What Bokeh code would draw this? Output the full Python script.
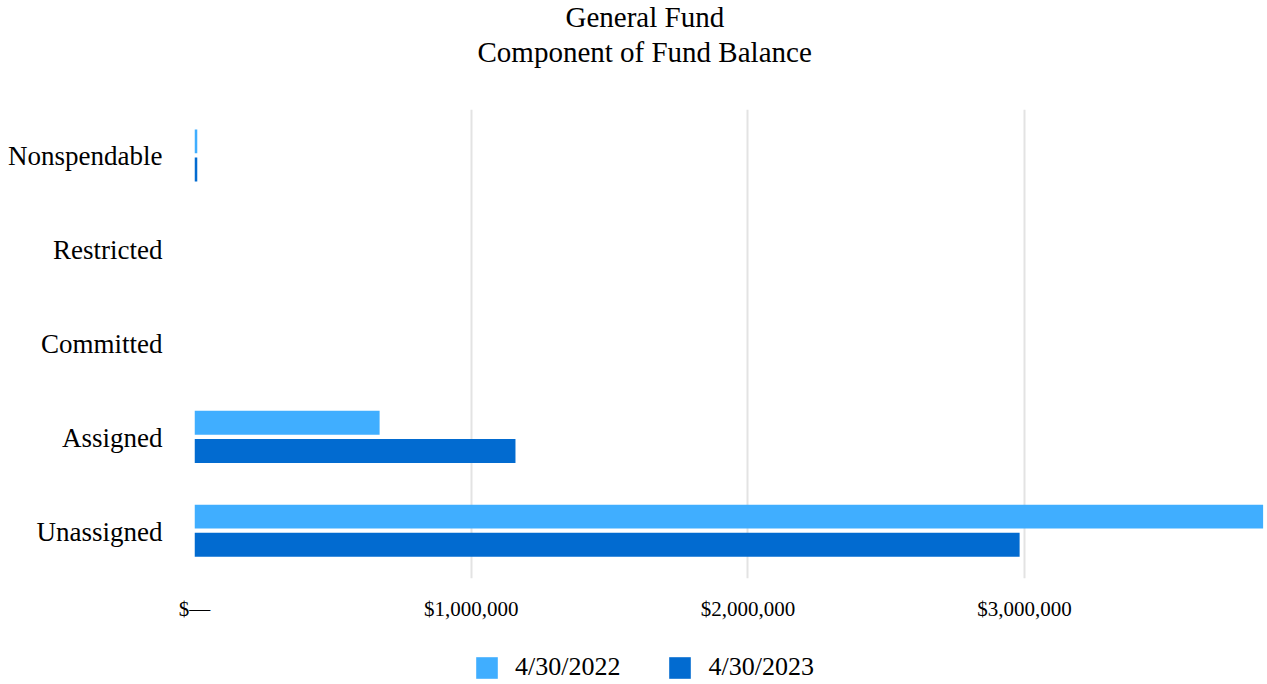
from bokeh.plotting import figure
from bokeh.layouts import column
from bokeh.models import (ColumnDataSource, FactorRange, Range1d, FixedTicker,
                          Legend, LegendItem, Title)
from bokeh.transform import dodge
from bokeh.embed import file_html
from bokeh.resources import INLINE

categories = ["Nonspendable", "Restricted", "Committed", "Assigned", "Unassigned"]
series = ["4/30/2022", "4/30/2023"]
fy2022 = [10000, 0, 0, 669000, 3862000]
fy2023 = [10000, 0, 0, 1160000, 2982000]
tick_values = [0, 1000000, 2000000, 3000000]
tick_labels = ["$\u2014", "$1,000,000", "$2,000,000", "$3,000,000"]
title_lines = ["General Fund", "Component of Fund Balance"]
colors = ["#40AEFF", "#026BD0"]

FONT = "Liberation Serif"

src = ColumnDataSource(dict(cat=categories, a=fy2022, b=fy2023))

p = figure(y_range=FactorRange(*reversed(categories)),
           x_range=Range1d(0, 3.867e6),
           output_backend="svg", toolbar_location=None)
p.frame_width = 1070
p.frame_height = 469
p.title = None
p.outline_line_color = None
p.min_border_left = 194
p.min_border_right = 2
p.min_border_top = 0
p.min_border_bottom = 50

r1 = p.hbar(y=dodge("cat", 0.16, range=p.y_range), right="a", left=0, height=0.255,
            source=src, color=colors[0], line_color=None)
r2 = p.hbar(y=dodge("cat", -0.14, range=p.y_range), right="b", left=0, height=0.255,
            source=src, color=colors[1], line_color=None)

# axes
p.xaxis.ticker = FixedTicker(ticks=tick_values)
p.xaxis.major_label_overrides = {v: l for v, l in zip(tick_values, tick_labels)}
p.xaxis.axis_line_color = None
p.xaxis.major_tick_line_color = None
p.xaxis.minor_tick_line_color = None
p.xaxis.major_tick_out = 0
p.xaxis.major_tick_in = 0
p.xaxis.major_label_standoff = 18
p.xaxis.major_label_text_font = FONT
p.xaxis.major_label_text_font_size = "21px"
p.xaxis.major_label_text_color = "#000000"

p.yaxis.axis_line_color = None
p.yaxis.major_tick_line_color = None
p.yaxis.minor_tick_line_color = None
p.yaxis.major_tick_out = 0
p.yaxis.major_tick_in = 0
p.yaxis.major_label_standoff = 32
p.yaxis.major_label_text_font = FONT
p.yaxis.major_label_text_font_size = "27px"
p.yaxis.major_label_text_color = "#000000"

p.ygrid.grid_line_color = None
p.xgrid.ticker = FixedTicker(ticks=tick_values)
p.xgrid.grid_line_color = "#e3e3e3"
p.xgrid.grid_line_width = 2

# titles: spacer (nearest frame), subtitle, main title
def mk_title(text, offset, standoff, valign="top"):
    return Title(text=text, align="left", offset=offset, vertical_align=valign,
                 text_font=FONT, text_font_size="29px", text_font_style="normal",
                 text_color="#000000", standoff=standoff)

p.add_layout(mk_title(" ", 0, 5), "above")
p.add_layout(mk_title(title_lines[1], 283, 1), "above")
p.add_layout(mk_title(title_lines[0], 371, 1), "above")

# legend strip below the chart (proxy bars have zero height and lie far outside its range)
lf = figure(width=1266, height=54,
            x_range=Range1d(-2e8, -1e8), y_range=FactorRange(*reversed(categories)),
            x_axis_type=None, y_axis_type=None, output_backend="svg",
            toolbar_location=None, min_border=0)
lf.title = None
lf.outline_line_color = None
lf.xgrid.visible = False
lf.ygrid.visible = False
k1 = lf.hbar(y="cat", right="a", left=0, height=0, source=src,
             color=colors[0], line_color=None)
k2 = lf.hbar(y="cat", right="b", left=0, height=0, source=src,
             color=colors[1], line_color=None)

legend = Legend(items=[LegendItem(label=series[0], renderers=[k1]),
                       LegendItem(label=series[1], renderers=[k2])],
                orientation="horizontal", location=(279, 0),
                label_text_font=FONT, label_text_font_size="26px",
                label_text_color="#000000", label_height=27,
                glyph_width=27, glyph_height=27, label_standoff=15,
                spacing=46, border_line_color=None, padding=0, margin=0,
                background_fill_alpha=0)
lf.add_layout(legend, "center")

layout = column(p, lf, spacing=0)
open("out.html", "w").write(file_html(layout, INLINE))
